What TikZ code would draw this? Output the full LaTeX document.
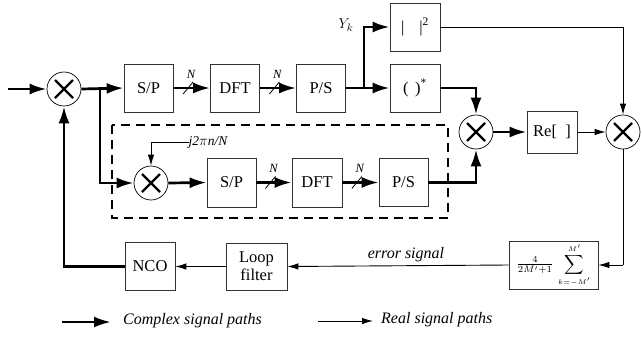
\documentclass[tikz,border=0pt]{standalone}
\usepackage{graphicx}
\usepackage{fontspec}
\setmainfont{Liberation Serif}
\usetikzlibrary{arrows.meta,calc}
\begin{document}
\begin{tikzpicture}[x=1pt,y=-1pt,
  blk/.style={draw=black!80,line width=0.7pt,minimum width=49pt,minimum height=48pt,inner sep=0pt,align=center,font=\fontsize{16.5}{18}\selectfont},
  mix/.style={draw,circle,line width=0.7pt,minimum size=34pt,inner sep=0pt,
    path picture={\draw[line width=2.4pt] ([shift={(-9pt,-9pt)}]path picture bounding box.center) -- ++(18pt,18pt)
      ([shift={(-9pt,9pt)}]path picture bounding box.center) -- ++(18pt,-18pt);}},
  cx/.style={line width=2.7pt,-{Latex[length=17pt,width=11pt]}},
  rl/.style={line width=0.9pt,-{Latex[length=11pt,width=6.5pt]}},
  slash/.style={line width=0.8pt},
  nlbl/.style={font=\fontsize{12.5}{13}\selectfont\itshape,inner sep=0pt},
  lbl/.style={font=\fontsize{16}{18}\selectfont\itshape,inner sep=0pt},
  ]
\useasboundingbox (0,0) rectangle (642,338);

% dashed enclosure
\draw[line width=1.2pt,dash pattern=on 9pt off 6pt] (112,125) rectangle (448,218);

% nodes
\node[mix] (m1) at (64,89) {};
\node[blk] (sp1) at (148.5,88) {S/P};
\node[blk] (dft1) at (235,88) {DFT};
\node[blk] (ps1) at (321,88) {P/S};
\node[blk,minimum width=50pt] (sq) at (415,27) {|\hspace{0.9em}|\textsuperscript{2}};
\node[blk,minimum width=50pt] (conj) at (415,88) {(\hspace{0.4em})\textsuperscript{*}};
\node[mix] (m2) at (476,132) {};
\node[blk,minimum width=50pt,minimum height=42pt] (re) at (552,132) {Re[\hspace{0.5em}]};
\node[mix] (m3) at (623,132) {};
\node[blk,minimum width=89pt] (sum) at (553.5,265) {\normalsize\scalebox{1.35}{$\frac{4}{2M'+1}\,\displaystyle\sum_{\scriptscriptstyle k=-M'}^{\scriptscriptstyle M'}$}};
\node[blk,minimum width=61pt,minimum height=47pt] (lf) at (256.5,266.5) {Loop\\filter};
\node[blk,minimum width=50pt] (nco) at (150,266.5) {NCO};
\node[mix] (m4) at (151,183) {};
\node[blk,minimum height=49pt] (sp2) at (231.5,182.5) {S/P};
\node[blk,minimum width=50pt,minimum height=49pt] (dft2) at (317,182.5) {DFT};
\node[blk] (ps2) at (403.5,182.5) {P/S};

\coordinate (in) at (8,89);
\coordinate (j1) at (100,89);
\coordinate (j2) at (364,88);
\coordinate (c3) at (623,265);

% labels
\node[lbl,font=\fontsize{15}{16}\selectfont] (yk) at (346,25) {$Y_{k}$};
\node[lbl,anchor=south] (err) at (406,262) {error signal};
\node[nlbl,font=\fontsize{13.5}{14}\selectfont\itshape] (ph) at (208,142) {j2$\pi$n/N};
\coordinate (phc) at (151,142);

% complex paths
\draw[cx] (in) -- (m1.west);
\draw[cx] (m1.east) -- (sp1.west);
\draw[cx] (sp1.east) -- (dft1.west);
\draw[cx] (dft1.east) -- (ps1.west);
\draw[cx] (ps1.east) -- (conj.west);
\draw[cx] (j2) |- (sq.west);
\draw[cx] (conj.east) -| (m2.north);
\draw[cx] (m2.east) -- (re.west);
\draw[cx] (nco.west) -| (m1.south);
\draw[cx] (j1) |- (m4.west);
\draw[cx] (m4.east) -- (sp2.west);
\draw[cx] (sp2.east) -- (dft2.west);
\draw[cx] (dft2.east) -- (ps2.west);
\draw[cx] (ps2.east) -| (m2.south);

% real paths
\draw[rl] (re.east) -- (m3.west);
\draw[rl] (sq.east) -| (m3.north);
\draw[line width=0.9pt] (m3.south) -- (c3);
\draw[rl] (c3) -- (sum.east);
\draw[rl] (sum.west) -- (lf.east);
\draw[rl] (lf.west) -- (nco.east);
\draw[rl] (ph.west) -- (phc) -- (m4.north);

% slash marks with N
\foreach \a/\b in {sp1/dft1,dft1/ps1,sp2/dft2,dft2/ps2}{
  \coordinate (s) at ($(\a.east)!0.40!(\b.west)$);
  \draw[slash] ($(s)+(-5,6)$) -- ($(s)+(5,-6)$);
  \node[nlbl] at ($(s)+(3,-14)$) {N};
}

% legend
\coordinate (l1a) at (62,322);
\coordinate (l1b) at (111,322);
\draw[cx] (l1a) -- (l1b);
\node[lbl,anchor=west] (t1) at (123,321) {Complex signal paths};
\coordinate (l2a) at (318,321);
\coordinate (l2b) at (373,321);
\draw[rl] (l2a) -- (l2b);
\node[lbl,anchor=west] (t2) at (381,320) {Real signal paths};
\end{tikzpicture}
\end{document}
